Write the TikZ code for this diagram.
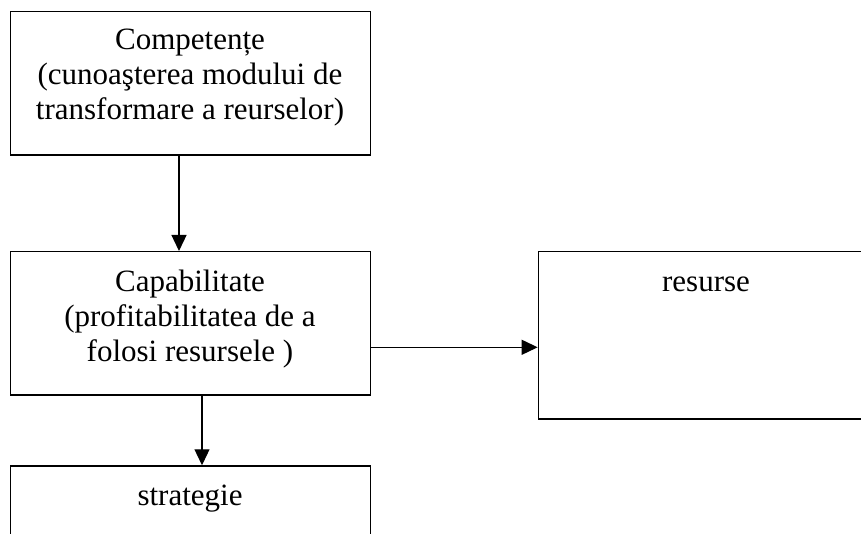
\documentclass[tikz,border=0pt]{standalone}
\usepackage{fontspec}
\setmainfont{Liberation Serif}
\usetikzlibrary{arrows.meta}
\begin{document}
\begin{tikzpicture}[x=1pt,y=-1pt,
  box/.style={draw, line width=1.4pt, rectangle, inner sep=0pt},
  txt/.style={inner sep=0pt, align=center, font=\fontsize{31}{35}\selectfont},
  arr/.style={line width=1.3pt, -{Triangle[length=16pt,width=15pt]}}]
\useasboundingbox (0,0) rectangle (861,534);
\clip (0,0) rectangle (861,534);

% boxes
\node[box, minimum width=359.8pt, minimum height=143.3pt] (comp) at (190.6,83.35) {};
\node[box, minimum width=359.8pt, minimum height=143.3pt] (cap) at (190.6,323.35) {};
\node[box, minimum width=335.7pt, minimum height=167.3pt] (res) at (706.2,335.35) {};
\node[box, minimum width=359.8pt, minimum height=143.3pt] (strat) at (190.6,537.6) {};

% labels
\node[txt] (compt) at (190,78) {Competențe\\(cunoaşterea modului de\\transformare a reurselor)};
\node[txt] (capt) at (190,319) {Capabilitate\\(profitabilitatea de a\\folosi resursele )};
\node[txt, anchor=base] (rest) at (706,291) {resurse};
\node[txt, anchor=base] (stratt) at (190,505) {strategie};

% connector positions
\coordinate (a1) at (179,0);
\coordinate (a2) at (0,347.3);
\coordinate (a3) at (202,0);

% connectors
\draw[arr] (comp.south -| a1) -- (cap.north -| a1);
\draw[arr] (cap.east |- a2) -- (res.west |- a2);
\draw[arr] (cap.south -| a3) -- (strat.north -| a3);
\end{tikzpicture}
\end{document}
